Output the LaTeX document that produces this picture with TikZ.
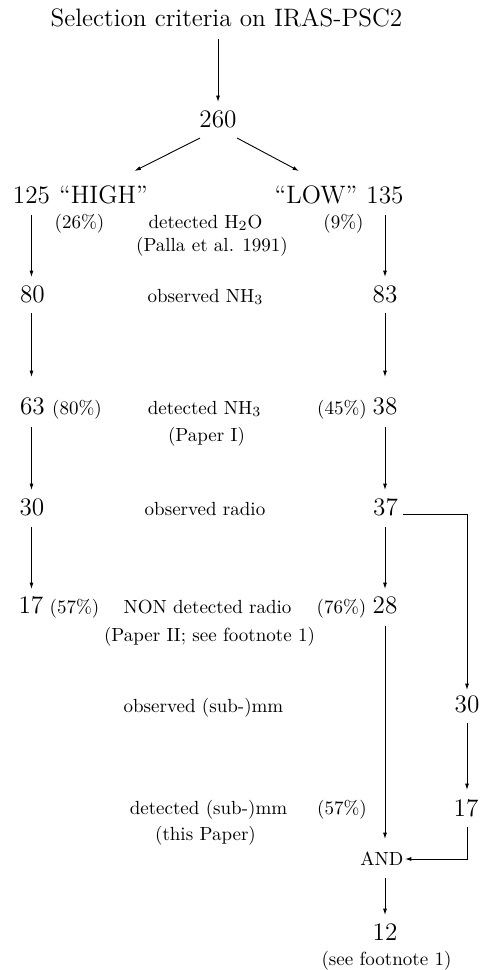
\documentclass[tikz,border=0pt]{standalone}
\usetikzlibrary{arrows.meta}
\begin{document}
\begin{tikzpicture}[x=0.5pt,y=-0.5pt,
  big/.style={font=\fontsize{12.6}{14}\selectfont, anchor=base, inner sep=0pt},
  sml/.style={font=\fontsize{9.5}{11}\selectfont, anchor=base, inner sep=0pt},
  arr/.style={line width=0.45pt, -{Latex[length=3.2pt,width=2pt]}},
  ln/.style={line width=0.45pt}]
\useasboundingbox (0,0) rectangle (482,970);
% top
\node[big] (title) at (226.5,26) {Selection criteria on IRAS-PSC2};
\node[big] (n260) at (218,127) {260};
\node[big] (n125) at (31.5,203) {125};
\node[big] (high) at (103.5,203) {``HIGH''};
\node[big] (low) at (316,203) {``LOW''};
\node[big] (n135) at (385,203) {135};
\node[sml] (p26) at (79.5,228) {(26\%)};
\node[sml] (dh2o) at (205.5,228) {detected H$_2$O};
\node[sml] (p9) at (343.5,228) {(9\%)};
\node[sml] (palla) at (212,251) {(Palla et al. 1991)};
% row NH3 observed
\node[big] (n80) at (32.5,302) {80};
\node[sml] (onh3) at (205.5,302) {observed NH$_3$};
\node[big] (n83) at (385,302) {83};
% row NH3 detected
\node[big] (n63) at (32.5,414) {63};
\node[sml] (p80) at (77,414) {(80\%)};
\node[sml] (dnh3) at (204.5,414) {detected NH$_3$};
\node[sml] (p45) at (342,414) {(45\%)};
\node[big] (n38) at (385,414) {38};
\node[sml] (pap1) at (206.5,441) {(Paper I)};
% radio observed
\node[big] (n30) at (32,515) {30};
\node[sml] (orad) at (205,515) {observed radio};
\node[big] (n37) at (385.5,515) {37};
% radio non detected
\node[big] (n17) at (31,613) {17};
\node[sml] (p57a) at (74.5,613) {(57\%)};
\node[sml] (ndrad) at (207.5,613) {NON detected radio};
\node[sml] (p76) at (341.5,613) {(76\%)};
\node[big] (n28) at (385,613) {28};
\node[sml] (pap2) at (209.5,641) {(Paper II; see footnote 1)};
% sub-mm
\node[sml] (osmm) at (203.5,712) {observed (sub-)mm};
\node[big] (r30) at (467,712) {30};
\node[sml] (dsmm) at (208.5,814) {detected (sub-)mm};
\node[sml] (p57b) at (342,814) {(57\%)};
\node[big] (r17) at (466,816) {17};
\node[sml] (thisp) at (205.5,840) {(this Paper)};
\node[sml] (and) at (382,865) {AND};
\node[big] (n12) at (385,940) {12};
\node[sml] (foot) at (386.5,965) {(see footnote 1)};
% connectors
\draw[arr] ([yshift=-6.5pt]title.base -| n260) -- ([yshift=12.5pt]n260.base);
\draw[arr] ([xshift=-9pt,yshift=-5.5pt]n260.base) -- ([xshift=15.5pt,yshift=16pt]high.base);
\draw[arr] ([xshift=9.5pt,yshift=-5.5pt]n260.base) -- ([xshift=-8.5pt,yshift=16pt]low.base);
\draw[arr] ([yshift=-6pt]n125.base) -- ([yshift=12.5pt]n125.base |- n80.base);
\draw[arr] ([yshift=-6pt]n135.base) -- ([yshift=12.5pt]n135.base |- n83.base);
\draw[arr] ([yshift=-5.5pt]n125.base |- n80.base) -- ([yshift=18.5pt]n125.base |- n63.base);
\draw[arr] ([yshift=-5.5pt]n83.base) -- ([yshift=18.5pt]n83.base |- n38.base);
\draw[arr] ([yshift=-6.5pt]n125.base |- n63.base) -- ([yshift=12.5pt]n125.base |- n30.base);
\draw[arr] ([yshift=-6.5pt]n38.base) -- ([yshift=12.5pt]n38.base |- n37.base);
\draw[arr] ([yshift=-6pt]n125.base |- n30.base) -- ([yshift=12pt]n125.base |- n17.base);
\draw[arr] ([yshift=-6pt]n38.base |- n37.base) -- ([yshift=12pt]n38.base |- n28.base);
\draw[arr] ([xshift=2.5pt,yshift=0.5pt]n37.base east) -| ([yshift=11pt]r30.base);
\draw[arr] ([yshift=-6.5pt]n38.base |- n28.base) -- ([yshift=13pt]n38.base |- and.base);
\draw[arr] ([yshift=-5.5pt]r30.base) -- ([yshift=13pt]r30.base |- r17.base);
\draw[arr] ([yshift=-5.5pt]r30.base |- r17.base) |- ([xshift=0.5pt,yshift=3pt]and.base east);
\draw[arr] ([yshift=-6.5pt]n38.base |- and.base) -- ([yshift=12.5pt]n12.base);
\end{tikzpicture}
\end{document}
